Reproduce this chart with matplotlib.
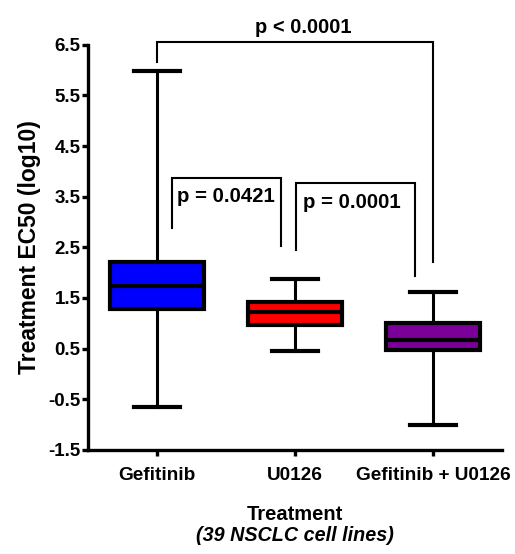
import matplotlib
matplotlib.use("Agg")
import matplotlib.pyplot as plt

categories = ["Gefitinib", "U0126", "Gefitinib + U0126"]
whisker_low = [-0.65, 0.45, -1.01]
q1 = [1.28, 0.97, 0.47]
median = [1.74, 1.23, 0.67]
q3 = [2.21, 1.43, 1.01]
whisker_high = [5.99, 1.88, 1.61]
colors = ["#0000FF", "#FF0000", "#7A0099"]
yticks = [-1.5, -0.5, 0.5, 1.5, 2.5, 3.5, 4.5, 5.5, 6.5]
p_texts = ["p = 0.0421", "p = 0.0001", "p < 0.0001"]

plt.rcParams['font.family'] = ['Liberation Sans', 'DejaVu Sans']
plt.rcParams['font.weight'] = 'bold'

fig = plt.figure(figsize=(5.15, 5.54), dpi=100)
ax = fig.add_axes([0.171, 0.188, 0.804, 0.731])

stats = []
for i in range(len(categories)):
    stats.append(dict(med=median[i], q1=q1[i], q3=q3[i],
                      whislo=whisker_low[i], whishi=whisker_high[i], fliers=[]))
bp = ax.bxp(stats, positions=range(len(categories)), widths=0.68, patch_artist=True,
            showfliers=False,
            boxprops=dict(linewidth=3.0, edgecolor='black'),
            medianprops=dict(linewidth=3.0, color='black'),
            whiskerprops=dict(linewidth=2.2, color='black'),
            capprops=dict(linewidth=3.0, color='black'),
            capwidths=0.33)
for patch, c in zip(bp['boxes'], colors):
    patch.set_facecolor(c)

ax.set_xlim(-0.5, 2.5)
ax.set_ylim(-1.5, 6.5)
ax.set_yticks(yticks)
ax.set_yticklabels([f"{v:.1f}" for v in yticks])
ax.set_xticks(range(len(categories)))
ax.set_xticklabels(categories)
ax.tick_params(axis='both', width=2.4, length=4, direction='out')
ax.tick_params(axis='y', labelsize=13.5, pad=1.5)
ax.tick_params(axis='x', labelsize=13.7, pad=8)
for lab in ax.get_xticklabels() + ax.get_yticklabels():
    lab.set_fontweight('bold')
for s in ['top', 'right']:
    ax.spines[s].set_visible(False)
for s in ['left', 'bottom']:
    ax.spines[s].set_linewidth(2.4)

ax.set_ylabel("Treatment EC50 (log10)", fontsize=16.5, fontweight='bold')
ax.yaxis.set_label_coords(-0.113, 0.5)
fig.text(0.572, 0.0605, "Treatment", ha='center', va='baseline', fontsize=14.5, fontweight='bold')
fig.text(0.572, 0.0235, "(39 NSCLC cell lines)", ha='center', va='baseline', fontsize=14.2,
         fontweight='bold', style='italic')

blw = 1.5
# bracket 1
ax.plot([0.109, 0.109, 0.90, 0.90], [2.88, 3.87, 3.87, 2.53], color='black', lw=blw,
        clip_on=False, solid_joinstyle='miter')
ax.text(0.146, 3.40, p_texts[0], ha='left', va='baseline', fontsize=14.7, fontweight='bold')
# bracket 2
ax.plot([1.007, 1.007, 1.869, 1.869], [2.45, 3.78, 3.78, 1.93], color='black', lw=blw,
        clip_on=False, solid_joinstyle='miter')
ax.text(1.056, 3.27, p_texts[1], ha='left', va='baseline', fontsize=14.7, fontweight='bold')
# bracket 3
ax.plot([0.0, 0.0, 2.0, 2.0], [6.17, 6.565, 6.565, 2.22], color='black', lw=blw,
        clip_on=False, solid_joinstyle='miter')
ax.text(1.06, 6.73, p_texts[2], ha='center', va='baseline', fontsize=14.5, fontweight='bold')

fig.savefig("out.png", dpi=100)
